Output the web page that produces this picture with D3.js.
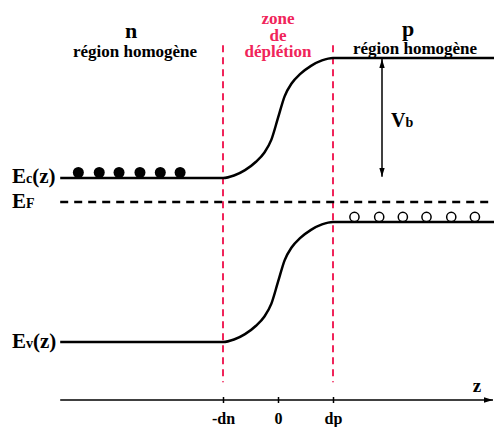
<!DOCTYPE html>
<html>
<head>
<meta charset="utf-8">
<script src="https://cdn.jsdelivr.net/npm/d3@7"></script>
<style>
  html, body { margin: 0; padding: 0; background: #fff; }
  svg text { font-family: "Liberation Serif", "Times New Roman", Times, "DejaVu Serif", serif !important; font-weight: bold; }
</style>
</head>
<body>
<svg id="chart" width="494" height="427"></svg>
<script>
// ---- data (z in units of dn/dp, energy in units of the Ec–Ev gap) ----
const zProfile   = [-3.96, -1, -0.8, -0.6, -0.4, -0.25, -0.12, 0, 0.12, 0.25, 0.4, 0.6, 0.8, 1, 3.93];
const ecValues   = [1, 1, 1.015, 1.048, 1.099, 1.154, 1.234, 1.366, 1.498, 1.578, 1.633, 1.684, 1.717, 1.732, 1.732];
const evValues   = [0, 0, 0.015, 0.048, 0.099, 0.154, 0.234, 0.366, 0.498, 0.578, 0.633, 0.684, 0.717, 0.732, 0.732];
const fermiLevel = 0.854;
const electronZ  = [-3.63, -3.25, -2.89, -2.51, -2.14, -1.78];
const holeZ      = [1.39, 1.84, 2.27, 2.70, 3.15, 3.58];
const tickValues = [-1, 0, 1];
const tickLabels = ["-dn", "0", "dp"];
const boundaries = [-1, 1];

const svg = d3.select("#chart");
const red = "#f0245a";
const FONT = "Liberation Serif, Times New Roman, serif";

const x = d3.scaleLinear().domain([-1, 1]).range([223, 333]);
const y = d3.scaleLinear().domain([0, 1]).range([342, 178]);

// depletion boundaries
svg.selectAll("line.bound").data(boundaries).join("line")
  .attr("class", "bound")
  .attr("x1", d => x(d)).attr("x2", d => x(d))
  .attr("y1", y(1.81)).attr("y2", y(-0.245))
  .attr("stroke", red).attr("stroke-width", 2)
  .attr("stroke-dasharray", "7,5");

// Fermi level
svg.append("line")
  .attr("x1", x(-3.96)).attr("x2", x(3.93))
  .attr("y1", y(fermiLevel)).attr("y2", y(fermiLevel))
  .attr("stroke", "#000").attr("stroke-width", 2.5)
  .attr("stroke-dasharray", "8,6");

// bands
const line = d3.line().curve(d3.curveMonotoneX);
[ecValues, evValues].forEach(vals => {
  svg.append("path")
    .attr("d", line(zProfile.map((z, i) => [x(z), y(vals[i])])))
    .attr("fill", "none").attr("stroke", "#000").attr("stroke-width", 2.5);
});

// electrons and holes
svg.selectAll("circle.e").data(electronZ).join("circle")
  .attr("class", "e")
  .attr("cx", d => x(d)).attr("cy", y(ecValues[0]) - 5.5).attr("r", 5.5)
  .attr("fill", "#000");
svg.selectAll("circle.h").data(holeZ).join("circle")
  .attr("class", "h")
  .attr("cx", d => x(d)).attr("cy", y(evValues[evValues.length - 1]) - 5).attr("r", 4.6)
  .attr("fill", "#fff").attr("stroke", "#000").attr("stroke-width", 1.5);

// arrow markers
const defs = svg.append("defs");
defs.append("marker").attr("id", "ah").attr("viewBox", "0 0 10 10")
  .attr("refX", 10).attr("refY", 5).attr("markerWidth", 9).attr("markerHeight", 9)
  .attr("markerUnits", "userSpaceOnUse").attr("orient", "auto-start-reverse")
  .append("path").attr("d", "M0,2 L10,5 L0,8 Z").attr("fill", "#000");

// Vb arrow
svg.append("line")
  .attr("x1", 382).attr("x2", 382)
  .attr("y1", y(1.732) + 1).attr("y2", y(1.007))
  .attr("stroke", "#000").attr("stroke-width", 1.5)
  .attr("marker-start", "url(#ah)").attr("marker-end", "url(#ah)");
const vb = svg.append("text").attr("x", 391).attr("y", 127).attr("font-family", FONT);
vb.append("tspan").attr("font-size", 20).text("V");
vb.append("tspan").attr("font-size", 14).text("b");

// z axis
const axisY = 400;
const axis = d3.axisBottom(x).tickValues(tickValues)
  .tickFormat((d, i) => tickLabels[i]).tickSize(3).tickPadding(10);
const gAxis = svg.append("g").attr("transform", `translate(0,${axisY})`).call(axis)
  .attr("font-family", FONT).attr("font-size", 16);
gAxis.select(".domain").remove();
gAxis.selectAll(".tick line").attr("y1", -3).attr("y2", 3).attr("stroke-width", 1.5);
gAxis.selectAll(".tick text").attr("font-size", 16).attr("font-weight", "bold")
  .attr("font-family", FONT).attr("fill", "#000");
svg.append("line")
  .attr("x1", x(-3.96)).attr("x2", 493)
  .attr("y1", axisY).attr("y2", axisY)
  .attr("stroke", "#000").attr("stroke-width", 1.5)
  .attr("marker-end", "url(#ah)");
svg.append("text").attr("x", 477).attr("y", 392).attr("text-anchor", "middle")
  .attr("font-family", FONT).attr("font-size", 19).text("z");

// region labels
function label(txt, xx, yy, size, color) {
  svg.append("text").attr("x", xx).attr("y", yy).attr("text-anchor", "middle")
    .attr("font-family", FONT).attr("font-size", size).attr("fill", color || "#000").text(txt);
}
label("n", 131, 38, 22);
label("région homogène", 135, 57, 17);
label("p", 408, 36, 22);
label("région homogène", 415, 54, 17);
label("zone", 278, 24, 17, red);
label("de", 278, 41, 17, red);
label("déplétion", 278, 57, 17, red);

// band labels
function bandLabel(big, small, rest, yy) {
  const t = svg.append("text").attr("x", 12).attr("y", yy).attr("font-family", FONT);
  t.append("tspan").attr("font-size", 21).text(big);
  t.append("tspan").attr("font-size", 14).text(small);
  if (rest) t.append("tspan").attr("font-size", 21).text(rest);
}
bandLabel("E", "c", "(z)", 183);
bandLabel("E", "F", "", 208);
bandLabel("E", "v", "(z)", 348);
</script>
</body>
</html>
